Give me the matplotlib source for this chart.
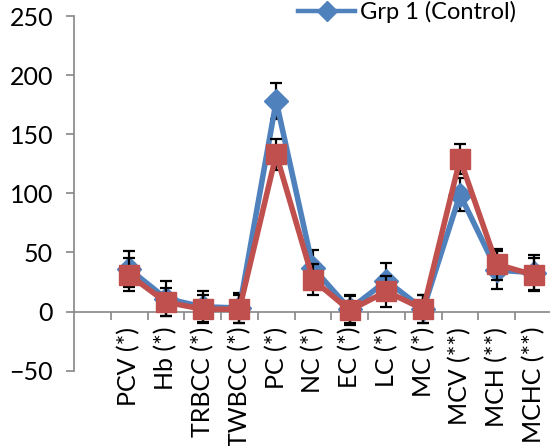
import matplotlib.pyplot as plt

plt.rcParams['font.family'] = ['Lato', 'DejaVu Sans']

# categories (first slot is left empty in the original chart)
labels = ["PCV (*)", "Hb (*)", "TRBCC (*)", "TWBCC (*)", "PC (*)", "NC (*)",
          "EC (*)", "LC (*)", "MC (*)", "MCV (**)", "MCH (**)", "MCHC (**)"]
grp1 = [36, 11, 4, 3, 178, 37, 2, 26, 2, 99, 35, 33]
grp1_err = [15, 15, 13, 13, 15, 15, 12, 15, 12, 14, 16, 15]
grp2 = [31, 8, 2, 2, 133, 27, 1, 17, 2, 129, 40, 31]
grp2_err = [14, 12, 12, 12, 13, 13, 12, 13, 12, 13, 13, 14]

blue = "#4F81BD"
red = "#C0504D"
gray = "#868686"

fig = plt.figure(figsize=(5.5, 4.46), dpi=100)
ax = fig.add_axes([0.1345, 0.169, 0.869, 0.795])

x = list(range(1, len(labels) + 1))

ax.errorbar(x, grp1, yerr=grp1_err, fmt="none", ecolor="black",
            elinewidth=1.6, capsize=4.5, capthick=1.6, zorder=2)
ax.plot(x, grp1, color=blue, lw=4, marker="D", markersize=12.5,
        label="Grp 1 (Control)", zorder=3)
ax.errorbar(x, grp2, yerr=grp2_err, fmt="none", ecolor="black",
            elinewidth=1.6, capsize=4.5, capthick=1.6, zorder=4)
ax.plot(x, grp2, color=red, lw=4, marker="s", markersize=14.5,
        label="_nolegend_", zorder=5)

ax.set_xlim(-0.5, 12.5)
ax.set_ylim(-50, 250)
ax.set_yticks([-50, 0, 50, 100, 150, 200, 250])

# category ticks at slot boundaries, labels at slot centres
ax.set_xticks([i + 0.5 for i in range(13)])
ax.set_xticklabels([])
ax.set_xticks(x, minor=True)
ax.set_xticklabels(labels, minor=True)
ax.tick_params(axis="x", which="minor", length=0, pad=11,
               labelrotation=90, labelsize=18)
ax.tick_params(axis="x", which="major", length=6, width=1.2, color=gray)
ax.tick_params(axis="y", length=6, width=1.2, color=gray, labelsize=18, pad=9)

for s in ["top", "right"]:
    ax.spines[s].set_visible(False)
ax.spines["bottom"].set_position(("data", 0))
ax.spines["bottom"].set_color(gray)
ax.spines["bottom"].set_linewidth(1.2)
ax.spines["left"].set_color(gray)
ax.spines["left"].set_linewidth(1.2)
ax.spines["bottom"].set_zorder(1)

leg = ax.legend(loc="upper left", bbox_to_anchor=(0.45, 1.07), frameon=False,
                fontsize=17, handlelength=2.4, numpoints=1, handletextpad=0.2,
                borderaxespad=0)
for h in leg.legend_handles:
    h.set_linewidth(3.2)
    h.set_markersize(10)

fig.savefig("out.png", dpi=100)
